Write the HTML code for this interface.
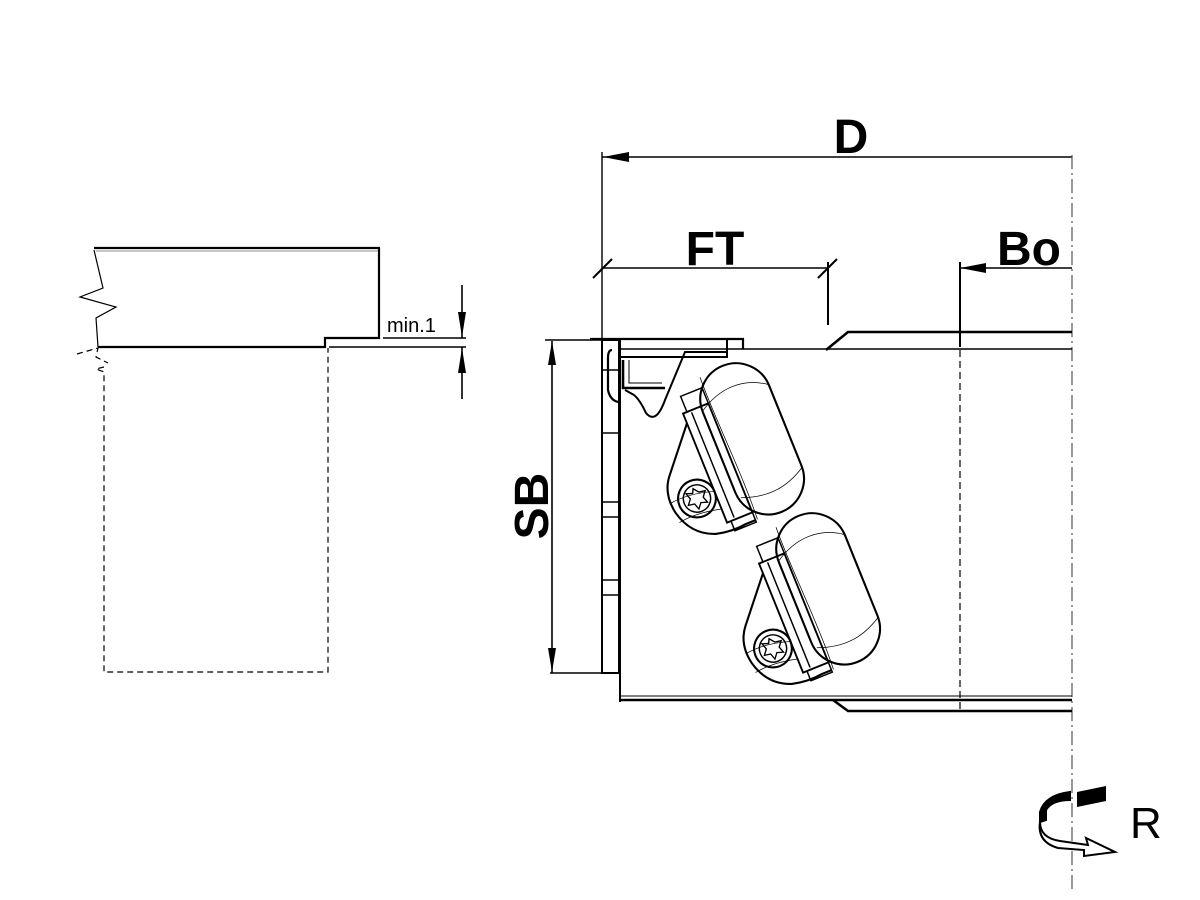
<!DOCTYPE html>
<html><head><meta charset="utf-8"><style>
html,body{margin:0;padding:0;background:#fff;}
svg{display:block;}
text{font-family:"Liberation Sans",Arial,sans-serif;fill:#000;}
</style></head><body>
<svg width="1200" height="900" viewBox="0 0 1200 900" xmlns="http://www.w3.org/2000/svg">
<defs>
<g id="pod" fill="none" stroke="#000">
  <rect x="-8" y="-78" width="68" height="150" rx="34" stroke-width="2"/>
  <path d="M-8 -45 C 15 -60 40 -60 60 -45" stroke-width="0.7"/>
  <path d="M-5 45 C 20 55 40 52 60 40" stroke-width="0.7"/>
  <path d="M2 -76 C 0 -40 5 20 2 70" stroke-width="0.7"/>
  <rect x="-26" y="-50" width="26" height="112" stroke-width="1.8"/>
  <line x1="-18" y1="-48" x2="-18" y2="60" stroke-width="1.4"/>
  <rect x="-22" y="-66" width="22" height="16" stroke-width="1.4"/>
  <rect x="-22" y="62" width="22" height="10" stroke-width="1.4"/>
  <path d="M-26 -40 L-60 0 Q-72 14 -68 35 Q-62 60 -40 68 Q-25 72 -10 70 L0 70" stroke-width="2"/>
  <path d="M-70 25 Q-50 22 -26 30" stroke-width="0.7"/>
  <path d="M-68 45 Q-50 42 -26 48" stroke-width="0.7"/>
  <circle cx="-44" cy="30" r="18" stroke-width="2"/>
  <circle cx="-44" cy="30" r="13" stroke-width="1.4"/>
  <path d="M-44 20 L-40 25 L-34 26 L-38 31 L-36 37 L-42 35 L-46 40 L-48 34 L-54 33 L-50 28 L-52 22 L-46 24 Z" stroke-width="1.3"/>
</g>
</defs>

<g fill="none" stroke="#000">
  <line x1="94" y1="248" x2="380" y2="248" stroke-width="2.2"/>
  <line x1="96" y1="251" x2="380" y2="251" stroke-width="0.8" stroke="#666"/>
  <line x1="379" y1="248" x2="379" y2="339" stroke-width="2.2"/>
  <polyline points="325,348 325,338 380,338" stroke-width="2.2"/>
  <line x1="98" y1="347" x2="326" y2="347" stroke-width="2.2"/>
  <polyline points="94,250 103,288 80,297 116,307 96,318 98,347" stroke-width="1.2"/>
  <line x1="383" y1="338" x2="466" y2="338" stroke-width="1.6"/>
  <line x1="329" y1="347" x2="466" y2="347" stroke-width="1.4"/>
  <g stroke-dasharray="6,4" stroke-width="1.2">
    <polyline points="77,354 98,348 96,357 108,363"/>
    <polyline points="104,367 96,369 104,372 104,672 328,672 328,348"/>
  </g>
  <line x1="462" y1="285" x2="462" y2="338" stroke-width="1.6"/>
  <line x1="462" y1="347" x2="462" y2="399" stroke-width="1.6"/>
</g>
<polygon points="458,312 466,312 462,337" fill="#000"/>
<polygon points="458,373 466,373 462,348" fill="#000"/>
<text x="387" y="332" font-size="20">min.1</text>

<g fill="none" stroke="#000">
  <line x1="602" y1="157" x2="1072" y2="157" stroke-width="1.6"/>
  <line x1="602" y1="152" x2="602" y2="348" stroke-width="1.4"/>
  <line x1="602" y1="268" x2="828" y2="268" stroke-width="1.4"/>
  <line x1="593" y1="278" x2="612" y2="259" stroke-width="2"/>
  <line x1="818" y1="278" x2="837" y2="259" stroke-width="2"/>
  <line x1="828" y1="262" x2="828" y2="325" stroke-width="2"/>
  <line x1="960" y1="268" x2="1072" y2="268" stroke-width="1.6"/>
  <line x1="960" y1="262" x2="960" y2="347" stroke-width="2"/>
  <line x1="960" y1="350" x2="960" y2="712" stroke-width="1.2" stroke-dasharray="7,4"/>
  <line x1="1072" y1="155" x2="1072" y2="890" stroke-width="1.2" stroke="#555" stroke-dasharray="14,4,2,4"/>
  <line x1="552" y1="341" x2="552" y2="673" stroke-width="1.6"/>
  <line x1="545" y1="340" x2="604" y2="340" stroke-width="1.4"/>
  <line x1="550" y1="673" x2="603" y2="673" stroke-width="1.4"/>
</g>
<polygon points="603,157 629,152 629,162" fill="#000"/>
<polygon points="960,268 986,263 986,273" fill="#000"/>
<polygon points="552,341 548,365 556,365" fill="#000"/>
<polygon points="552,672 548,648 556,648" fill="#000"/>
<text x="851" y="153" font-size="48" font-weight="bold" text-anchor="middle">D</text>
<text x="715" y="265" font-size="48" font-weight="bold" text-anchor="middle">FT</text>
<text x="1029" y="265" font-size="48" font-weight="bold" text-anchor="middle">Bo</text>
<text x="0" y="0" font-size="48" font-weight="bold" text-anchor="middle" transform="translate(548,506) rotate(-90)">SB</text>

<g fill="none" stroke="#000">
  <line x1="620" y1="349" x2="1072" y2="349" stroke-width="1.4"/>
  <polyline points="826,350 848,332 1072,332" stroke-width="2.6"/>
  <line x1="620" y1="348" x2="620" y2="702" stroke-width="2"/>
  <line x1="620" y1="696" x2="1072" y2="696" stroke-width="1"/>
  <line x1="620" y1="700" x2="1072" y2="700" stroke-width="2.6"/>
  <polyline points="833,700 848,711 1072,711" stroke-width="2.6"/>
  <rect x="602" y="340" width="17" height="333" stroke-width="2"/>
  <line x1="602" y1="502" x2="619" y2="502" stroke-width="1.6"/>
  <line x1="602" y1="517" x2="619" y2="517" stroke-width="1.6"/>
  <line x1="602" y1="580" x2="619" y2="580" stroke-width="1.6"/>
  <line x1="602" y1="595" x2="619" y2="595" stroke-width="1.6"/>
  <line x1="602" y1="370" x2="619" y2="370" stroke-width="1.4"/>
  <line x1="602" y1="433" x2="619" y2="433" stroke-width="1.4"/>
  <polyline points="590,339 743,339 743,349" stroke-width="2.2"/>
  <polyline points="620,339 620,357 727,357 727,339" stroke-width="2"/>
  <path d="M727 352 L685 352 L665 400 Q656 425 646 413 Q640 400 634 395 L625 390" stroke-width="2"/>
  <path d="M612 350 Q608 350 608 358 L608 390 Q610 400 618 402" stroke-width="2.2"/>
  <path d="M623 360 L623 388 L665 388" stroke-width="2.6"/>
  <path d="M629 360 L629 383 L662 383" stroke-width="1"/>
</g>
<use href="#pod" transform="translate(728,452) rotate(-22) scale(1.05)"/>
<use href="#pod" transform="translate(804,602) rotate(-22) scale(1.05)"/>

<path d="M1070 792 Q1045 795 1040 812 L1040 822 L1046 820 L1046 810 Q1052 800 1070 800 Z" fill="#000" stroke="#000" stroke-width="2"/>
<polygon points="1077,792 1106,786 1106,801 1077,807" fill="#000"/>
<path d="M1040 822 Q1040 838 1060 841 L1088 845 L1086 838 L1115 852 L1084 856 L1084 850 L1058 848 Q1037 842 1040 822" fill="#fff" stroke="#000" stroke-width="2"/>
<text x="1130" y="838" font-size="44">R</text>
</svg>
</body></html>
